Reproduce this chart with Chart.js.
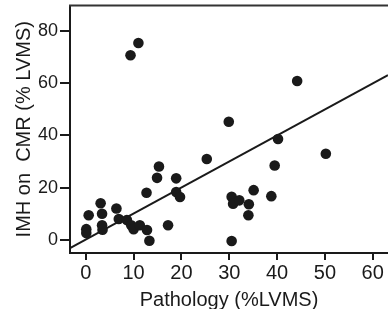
<!DOCTYPE html>
<html>
<head>
<meta charset="utf-8">
<script src="https://cdn.jsdelivr.net/npm/chart.js@4"></script>
<style>
  html, body { margin: 0; padding: 0; background: #fff; }
  #wrap { width: 388px; height: 309px; }
</style>
</head>
<body>
<div id="wrap"><canvas id="c" width="388" height="309"></canvas></div>
<script>
// Data
const pathology = [0.1, 0.1, 0.6, 3.1, 3.4, 3.4, 3.5, 6.4, 6.9, 8.6, 9.5, 10.0, 11.3, 12.8, 13.3, 12.7, 14.9, 15.3, 17.2, 18.9, 18.9, 19.7, 25.3, 29.9, 30.5, 30.8, 32.1, 34.1, 34.0, 35.1, 38.8, 39.5, 40.2, 44.2, 50.2, 30.5, 9.35, 11.0];
const imhCMR    = [4.2, 2.7, 9.5, 14.1, 10.1, 5.7, 4.0, 12.1, 8.1, 7.7, 5.7, 4.2, 5.7, 3.9, -0.2, 18.1, 23.8, 28.1, 5.7, 23.6, 18.4, 16.5, 31.0, 45.2, 16.6, 13.9, 15.2, 13.7, 9.5, 19.1, 16.8, 28.5, 38.6, 60.8, 33.0, -0.3, 70.6, 75.3];
// Regression line end points
const fitX = [-3.3, 63.2];
const fitY = [-3.0, 63.0];
// Tick labels
const xTicks = [0, 10, 20, 30, 40, 50, 60];
const yTicks = [0, 20, 40, 60, 80];
const xTitle = 'Pathology (%LVMS)';
const yTitle = 'IMH on  CMR (% LVMS)';

const FONT = "'Liberation Sans', Arial, Helvetica, sans-serif";
const INK = '#1a1a1a';

const topLine = {
  id: 'topLine',
  afterDraw(chart) {
    const { ctx, chartArea } = chart;
    ctx.save();
    ctx.strokeStyle = '#333';
    ctx.lineWidth = 2;
    ctx.beginPath();
    ctx.moveTo(chartArea.left - 1, chartArea.top);
    ctx.lineTo(chart.width, chartArea.top);
    ctx.stroke();
    ctx.restore();
  }
};

const noEdgePad = s => { s.paddingTop = 0; s.paddingBottom = 0; s.paddingLeft = 0; s.paddingRight = 0; };

new Chart(document.getElementById('c'), {
  type: 'scatter',
  data: {
    datasets: [
      {
        type: 'line',
        data: fitX.map((x, i) => ({ x, y: fitY[i] })),
        borderColor: INK,
        borderWidth: 2,
        pointRadius: 0,
        fill: false,
        order: 2
      },
      {
        data: pathology.map((x, i) => ({ x, y: imhCMR[i] })),
        backgroundColor: INK,
        borderColor: INK,
        borderWidth: 0,
        pointRadius: 5.3,
        order: 1
      }
    ]
  },
  options: {
    responsive: false,
    devicePixelRatio: 1,
    animation: false,
    layout: { autoPadding: false, padding: { top: 5.5, right: 0, left: 1, bottom: 0 } },
    plugins: { legend: { display: false }, tooltip: { enabled: false } },
    scales: {
      x: {
        type: 'linear',
        min: -3.3,
        max: 63.2,
        afterBuildTicks: s => { s.ticks = xTicks.map(v => ({ value: v })); },
        afterFit: noEdgePad,
        grid: { display: true, drawOnChartArea: false, drawTicks: true, tickLength: 7, color: INK, lineWidth: 2 },
        border: { display: true, color: INK, width: 2 },
        ticks: { color: INK, padding: 1, maxRotation: 0, font: { family: FONT, size: 20, lineHeight: 1.2 } },
        title: { display: true, text: xTitle, color: INK, padding: { top: 5, bottom: 0 }, font: { family: FONT, size: 20, lineHeight: 0.9 } }
      },
      y: {
        type: 'linear',
        min: -4.9,
        max: 89.6,
        afterBuildTicks: s => { s.ticks = yTicks.map(v => ({ value: v })); },
        afterFit: noEdgePad,
        grid: { display: true, drawOnChartArea: false, drawTicks: true, tickLength: 10, color: INK, lineWidth: 2 },
        border: { display: true, color: INK, width: 2 },
        ticks: { color: INK, padding: 2, font: { family: FONT, size: 18 } },
        title: { display: true, text: yTitle, color: INK, padding: { top: 11, bottom: 0 }, font: { family: FONT, size: 20 } }
      }
    }
  },
  plugins: [topLine]
});
</script>
</body>
</html>
